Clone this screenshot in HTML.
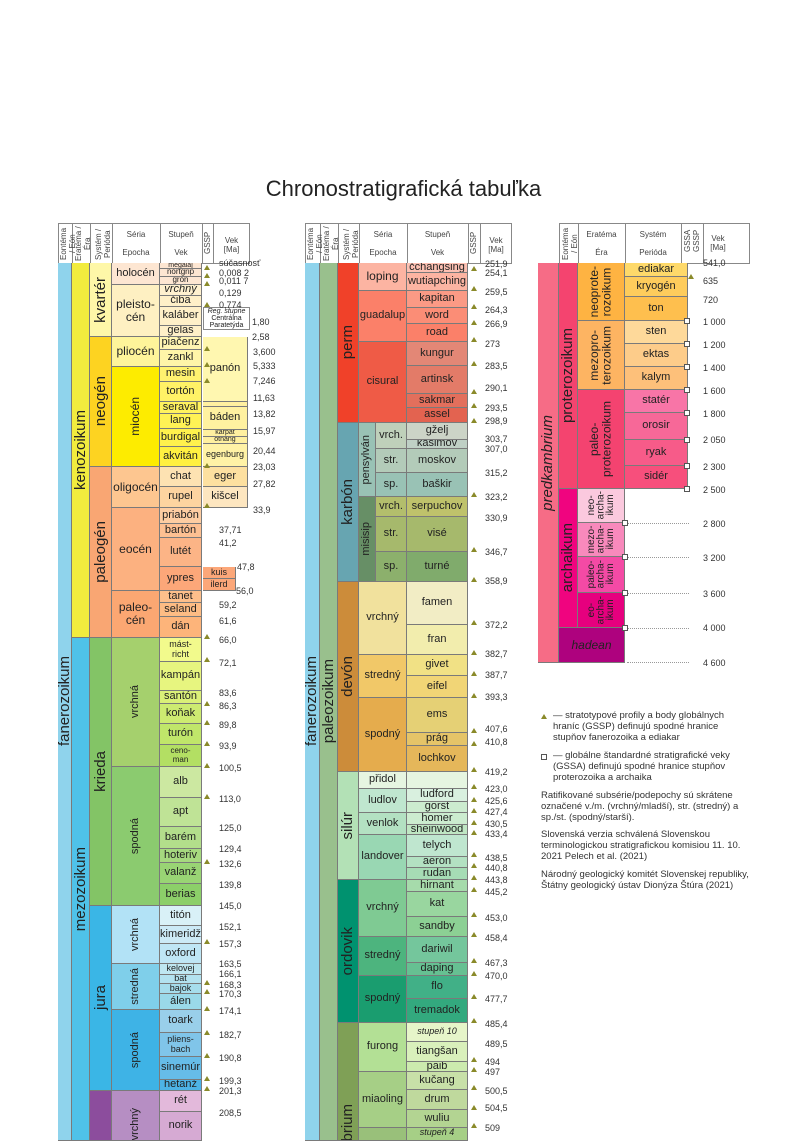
<!DOCTYPE html>
<html style="overflow:hidden"><head><meta charset="utf-8"><style>
html,body{overflow:hidden}
body{margin:0;width:807px;height:1141px;overflow:hidden;background:#fff;position:relative;font-family:"Liberation Sans",sans-serif;color:#222}
.b{position:absolute;display:flex;align-items:center;justify-content:center;border-right:1px solid #7a7a7a;border-bottom:1px solid #7a7a7a;box-sizing:border-box;font-size:11px;text-align:center;line-height:1.05;overflow:hidden;white-space:nowrap}
.v{writing-mode:vertical-rl;transform:rotate(180deg)}
.S{font-size:15px}.M{font-size:12px}.s9{font-size:9px}.s8{font-size:8px}.s7{font-size:7px}
.a{position:absolute;font-size:9px;color:#333;line-height:10px;white-space:nowrap}
.h{position:absolute;border:1px solid #888;box-sizing:border-box;background:#fff}
.hl{position:absolute;font-size:8px;color:#444;text-align:center;line-height:9px}
.vl{position:absolute;width:1px;background:#888}
.g{position:absolute;width:0;height:0;border-left:3px solid transparent;border-right:3px solid transparent;border-bottom:5px solid #8a8a2a}
.q{position:absolute;width:6px;height:6px;border:1px solid #555;background:#fff;box-sizing:border-box}
.d{position:absolute;height:0;border-top:1px dotted #999}
.t{position:absolute;font-size:9.5px;line-height:11px;color:#333}
.ar{font-size:10px;line-height:0.95}
</style></head><body>
<div style="position:absolute;left:0;width:807px;top:176px;text-align:center;font-size:22px;color:#222">Chronostratigrafická tabuľka</div>

<!-- LEFT HEADER -->
<div class="h" style="left:58px;top:223px;width:192px;height:41px"></div>
<div class="vl" style="left:72px;top:223px;height:41px"></div><div class="vl" style="left:90px;top:223px;height:41px"></div><div class="vl" style="left:112px;top:223px;height:41px"></div><div class="vl" style="left:160px;top:223px;height:41px"></div><div class="vl" style="left:202px;top:223px;height:41px"></div><div class="vl" style="left:213px;top:223px;height:41px"></div>
<div class="hl v" style="left:59px;top:226px;height:36px">Eontéma / Eón</div>
<div class="hl v" style="left:74px;top:226px;height:36px">Eratéma / Éra</div>
<div class="hl v" style="left:94px;top:226px;height:36px">Systém / Perióda</div>
<div class="hl" style="left:112px;top:230px;width:48px">Séria<br><br>Epocha</div>
<div class="hl" style="left:160px;top:230px;width:42px">Stupeň<br><br>Vek</div>
<div class="hl v" style="left:203px;top:228px;height:30px">GSSP</div>
<div class="hl" style="left:213px;top:236px;width:37px">Vek<br>[Ma]</div>

<!-- LEFT BODY -->
<div class="b S" style="left:58px;top:263px;width:14px;height:878px;background:#8fd3ec"><span class="v">fanerozoikum</span></div>
<div class="b S" style="left:72px;top:263px;width:18px;height:375px;background:#f2ec3e"><span class="v">kenozoikum</span></div>
<div class="b S" style="left:72px;top:638px;width:18px;height:503px;background:#4fc2e9"><span class="v">mezozoikum</span></div>
<div class="b S" style="left:90px;top:263px;width:22px;height:74px;background:#fef7a8"><span class="v">kvartér</span></div>
<div class="b S" style="left:90px;top:337px;width:22px;height:130px;background:#fdd321"><span class="v">neogén</span></div>
<div class="b S" style="left:90px;top:467px;width:22px;height:171px;background:#f9a673"><span class="v">paleogén</span></div>
<div class="b S" style="left:90px;top:638px;width:22px;height:268px;background:#83c466"><span class="v">krieda</span></div>
<div class="b S" style="left:90px;top:906px;width:22px;height:185px;background:#3ab6e6"><span class="v">jura</span></div>
<div class="b S" style="left:90px;top:1091px;width:22px;height:50px;background:#8c4d9d"></div>

<div class="b" style="left:112px;top:263px;width:48px;height:22px;background:#fde6d2">holocén</div>
<div class="b M" style="left:112px;top:285px;width:48px;height:52px;background:#fef0c2">pleisto-<br>cén</div>
<div class="b M" style="left:112px;top:337px;width:48px;height:30px;background:#fef49a">pliocén</div>
<div class="b M" style="left:112px;top:367px;width:48px;height:100px;background:#fdec00"><span class="v">miocén</span></div>
<div class="b M" style="left:112px;top:467px;width:48px;height:41px;background:#fdc690">oligocén</div>
<div class="b M" style="left:112px;top:508px;width:48px;height:83px;background:#fcb180">eocén</div>
<div class="b M" style="left:112px;top:591px;width:48px;height:47px;background:#fba772">paleo-<br>cén</div>
<div class="b" style="left:112px;top:638px;width:48px;height:129px;background:#a5d06d"><span class="v">vrchná</span></div>
<div class="b" style="left:112px;top:767px;width:48px;height:139px;background:#8bcb6f"><span class="v">spodná</span></div>
<div class="b" style="left:112px;top:906px;width:48px;height:58px;background:#b2e2f6"><span class="v">vrchná</span></div>
<div class="b" style="left:112px;top:964px;width:48px;height:46px;background:#7fcfea"><span class="v">stredná</span></div>
<div class="b" style="left:112px;top:1010px;width:48px;height:81px;background:#3eb3e6"><span class="v">spodná</span></div>
<div class="b" style="left:112px;top:1091px;width:48px;height:50px;background:#b68ec3;align-items:flex-end;justify-content:center"><span class="v">vrchný</span></div>

<div class="b s7" style="left:160px;top:263px;width:42px;height:6px;background:#fde6d2">megalaj</div>
<div class="b s8" style="left:160px;top:269px;width:42px;height:8px;background:#fde6d2">nortgrip</div>
<div class="b s8" style="left:160px;top:277px;width:42px;height:8px;background:#fde6d2">grón</div>
<div class="b" style="left:160px;top:285px;width:42px;height:11px;background:#fff1cf;font-style:italic">vrchný</div>
<div class="b" style="left:160px;top:296px;width:42px;height:11px;background:#fff0c8">čiba</div>
<div class="b" style="left:160px;top:307px;width:42px;height:19px;background:#fff0c8">kaláber</div>
<div class="b" style="left:160px;top:326px;width:42px;height:11px;background:#fff0c8">gelas</div>
<div class="b" style="left:160px;top:337px;width:42px;height:13px;background:#fff5b2">piačenz</div>
<div class="b" style="left:160px;top:350px;width:42px;height:17px;background:#fff5a8">zankl</div>
<div class="b" style="left:160px;top:367px;width:42px;height:15px;background:#fff26f">mesin</div>
<div class="b" style="left:160px;top:382px;width:42px;height:20px;background:#fff266">tortón</div>
<div class="b" style="left:160px;top:402px;width:42px;height:12px;background:#fff25e">seraval</div>
<div class="b" style="left:160px;top:414px;width:42px;height:15px;background:#fff255">lang</div>
<div class="b" style="left:160px;top:429px;width:42px;height:18px;background:#fff14c">burdigal</div>
<div class="b" style="left:160px;top:447px;width:42px;height:20px;background:#fff041">akvitán</div>
<div class="b" style="left:160px;top:467px;width:42px;height:20px;background:#fde2b2">chat</div>
<div class="b" style="left:160px;top:487px;width:42px;height:21px;background:#fdd4a0">rupel</div>
<div class="b" style="left:160px;top:508px;width:42px;height:16px;background:#fdcda2">priabón</div>
<div class="b" style="left:160px;top:524px;width:42px;height:14px;background:#fdc092">bartón</div>
<div class="b" style="left:160px;top:538px;width:42px;height:29px;background:#fcb486">lutét</div>
<div class="b" style="left:160px;top:567px;width:42px;height:24px;background:#fca779">ypres</div>
<div class="b" style="left:160px;top:591px;width:42px;height:12px;background:#fdbf8b">tanet</div>
<div class="b" style="left:160px;top:603px;width:42px;height:14px;background:#fdbc84">seland</div>
<div class="b" style="left:160px;top:617px;width:42px;height:21px;background:#fdb47a">dán</div>
<div class="b s9" style="left:160px;top:638px;width:42px;height:24px;background:#f2fa8c">mást-<br>richt</div>
<div class="b" style="left:160px;top:662px;width:42px;height:29px;background:#e7f57f">kampán</div>
<div class="b" style="left:160px;top:691px;width:42px;height:13px;background:#daf078">santón</div>
<div class="b" style="left:160px;top:704px;width:42px;height:20px;background:#cdeb71">koňak</div>
<div class="b" style="left:160px;top:724px;width:42px;height:21px;background:#c0e66a">turón</div>
<div class="b s8" style="left:160px;top:745px;width:42px;height:22px;background:#b3df63">ceno-<br>man</div>
<div class="b" style="left:160px;top:767px;width:42px;height:31px;background:#cce8a1">alb</div>
<div class="b" style="left:160px;top:798px;width:42px;height:29px;background:#bfe396">apt</div>
<div class="b" style="left:160px;top:827px;width:42px;height:22px;background:#b3de8b">barém</div>
<div class="b" style="left:160px;top:849px;width:42px;height:14px;background:#a6d97f">hoteriv</div>
<div class="b" style="left:160px;top:863px;width:42px;height:21px;background:#99d474">valanž</div>
<div class="b" style="left:160px;top:884px;width:42px;height:22px;background:#8ccf69">berias</div>
<div class="b" style="left:160px;top:906px;width:42px;height:20px;background:#d9f1f7">titón</div>
<div class="b" style="left:160px;top:926px;width:42px;height:18px;background:#cceaf6">kimeridž</div>
<div class="b" style="left:160px;top:944px;width:42px;height:20px;background:#bfe6f5">oxford</div>
<div class="b s9" style="left:160px;top:964px;width:42px;height:11px;background:#bfe7f1">kelovej</div>
<div class="b s9" style="left:160px;top:975px;width:42px;height:9px;background:#b3e2ef">bat</div>
<div class="b s9" style="left:160px;top:984px;width:42px;height:10px;background:#a6ddec">bajok</div>
<div class="b" style="left:160px;top:994px;width:42px;height:16px;background:#9ad9e9">álen</div>
<div class="b" style="left:160px;top:1010px;width:42px;height:23px;background:#99cfea">toark</div>
<div class="b s9" style="left:160px;top:1033px;width:42px;height:24px;background:#80c5e9">pliens-<br>bach</div>
<div class="b" style="left:160px;top:1057px;width:42px;height:23px;background:#66bce8">sinemúr</div>
<div class="b" style="left:160px;top:1080px;width:42px;height:11px;background:#4db3e6">hetanž</div>
<div class="b" style="left:160px;top:1091px;width:42px;height:21px;background:#e3b9db">rét</div>
<div class="b" style="left:160px;top:1112px;width:42px;height:29px;background:#d6aad3">norik</div>

<!-- regional -->
<div class="b s7" style="left:203px;top:307px;width:47px;height:23px;background:#fff;border:1px solid #888;line-height:7px;white-space:normal"><span><i>Reg. stupne</i><br>Centrálna<br>Paratetýda</span></div>
<div class="b" style="left:203px;top:337px;width:45px;height:65px;background:#fff7b0">panón</div>
<div class="b s8" style="left:203px;top:402px;width:45px;height:5px;background:#fff0a0"></div>
<div class="b" style="left:203px;top:407px;width:45px;height:23px;background:#fff1a0">báden</div>
<div class="b s7" style="left:203px;top:430px;width:45px;height:7px;background:#fff0a0">karpat</div>
<div class="b s7" style="left:203px;top:437px;width:45px;height:7px;background:#fff0a0">otnang</div>
<div class="b s9" style="left:203px;top:444px;width:45px;height:23px;background:#fff2a6">egenburg</div>
<div class="b" style="left:203px;top:467px;width:45px;height:20px;background:#fde0a0">eger</div>
<div class="b" style="left:203px;top:487px;width:45px;height:21px;background:#fde6c0">kišcel</div>
<div class="b s9" style="left:203px;top:567px;width:33px;height:12px;background:#fca779">kuis</div>
<div class="b s9" style="left:203px;top:579px;width:33px;height:12px;background:#fca779">ilerd</div>

<div class="a" style="left:219px;top:258px">súčasnosť</div>
<div class="a" style="left:219px;top:268px">0,008 2</div><div class="a" style="left:219px;top:276px">0,011 7</div><div class="a" style="left:219px;top:288px">0,129</div><div class="a" style="left:219px;top:300px">0,774</div>
<div class="a" style="left:252px;top:317px">1,80</div><div class="a" style="left:252px;top:332px">2,58</div><div class="a" style="left:253px;top:347px">3,600</div><div class="a" style="left:253px;top:361px">5,333</div><div class="a" style="left:253px;top:376px">7,246</div><div class="a" style="left:253px;top:393px">11,63</div><div class="a" style="left:253px;top:409px">13,82</div><div class="a" style="left:253px;top:426px">15,97</div><div class="a" style="left:253px;top:446px">20,44</div><div class="a" style="left:253px;top:462px">23,03</div><div class="a" style="left:253px;top:479px">27,82</div><div class="a" style="left:253px;top:505px">33,9</div>
<div class="a" style="left:219px;top:525px">37,71</div><div class="a" style="left:219px;top:538px">41,2</div><div class="a" style="left:237px;top:562px">47,8</div><div class="a" style="left:236px;top:586px">56,0</div><div class="a" style="left:219px;top:600px">59,2</div><div class="a" style="left:219px;top:616px">61,6</div><div class="a" style="left:219px;top:635px">66,0</div><div class="a" style="left:219px;top:658px">72,1</div><div class="a" style="left:219px;top:688px">83,6</div><div class="a" style="left:219px;top:701px">86,3</div><div class="a" style="left:219px;top:720px">89,8</div><div class="a" style="left:219px;top:741px">93,9</div><div class="a" style="left:219px;top:763px">100,5</div><div class="a" style="left:219px;top:794px">113,0</div><div class="a" style="left:219px;top:823px">125,0</div><div class="a" style="left:219px;top:844px">129,4</div><div class="a" style="left:219px;top:859px">132,6</div><div class="a" style="left:219px;top:880px">139,8</div><div class="a" style="left:219px;top:901px">145,0</div><div class="a" style="left:219px;top:922px">152,1</div><div class="a" style="left:219px;top:939px">157,3</div><div class="a" style="left:219px;top:959px">163,5</div><div class="a" style="left:219px;top:969px">166,1</div><div class="a" style="left:219px;top:980px">168,3</div><div class="a" style="left:219px;top:989px">170,3</div><div class="a" style="left:219px;top:1006px">174,1</div><div class="a" style="left:219px;top:1030px">182,7</div><div class="a" style="left:219px;top:1053px">190,8</div><div class="a" style="left:219px;top:1076px">199,3</div><div class="a" style="left:219px;top:1086px">201,3</div><div class="a" style="left:219px;top:1108px">208,5</div>
<div class="g" style="left:204px;top:265px"></div><div class="g" style="left:204px;top:273px"></div><div class="g" style="left:204px;top:281px"></div><div class="g" style="left:204px;top:302px"></div><div class="g" style="left:204px;top:346px"></div><div class="g" style="left:204px;top:362px"></div><div class="g" style="left:204px;top:378px"></div><div class="g" style="left:204px;top:463px"></div><div class="g" style="left:204px;top:503px"></div><div class="g" style="left:204px;top:634px"></div><div class="g" style="left:204px;top:657px"></div><div class="g" style="left:204px;top:701px"></div><div class="g" style="left:204px;top:720px"></div><div class="g" style="left:204px;top:741px"></div><div class="g" style="left:204px;top:763px"></div><div class="g" style="left:204px;top:794px"></div><div class="g" style="left:204px;top:859px"></div><div class="g" style="left:204px;top:939px"></div><div class="g" style="left:204px;top:980px"></div><div class="g" style="left:204px;top:989px"></div><div class="g" style="left:204px;top:1006px"></div><div class="g" style="left:204px;top:1030px"></div><div class="g" style="left:204px;top:1053px"></div><div class="g" style="left:204px;top:1076px"></div><div class="g" style="left:204px;top:1086px"></div>

<!-- MIDDLE HEADER -->
<div class="h" style="left:305px;top:223px;width:207px;height:41px"></div>
<div class="vl" style="left:320px;top:223px;height:41px"></div><div class="vl" style="left:338px;top:223px;height:41px"></div><div class="vl" style="left:359px;top:223px;height:41px"></div><div class="vl" style="left:407px;top:223px;height:41px"></div><div class="vl" style="left:468px;top:223px;height:41px"></div><div class="vl" style="left:480px;top:223px;height:41px"></div>
<div class="hl v" style="left:306px;top:226px;height:36px">Eontéma / Eón</div>
<div class="hl v" style="left:322px;top:226px;height:36px">Eratéma / Éra</div>
<div class="hl v" style="left:342px;top:226px;height:36px">Systém / Perióda</div>
<div class="hl" style="left:359px;top:230px;width:48px">Séria<br><br>Epocha</div>
<div class="hl" style="left:407px;top:230px;width:61px">Stupeň<br><br>Vek</div>
<div class="hl v" style="left:469px;top:228px;height:30px">GSSP</div>
<div class="hl" style="left:480px;top:236px;width:32px">Vek<br>[Ma]</div>

<!-- MIDDLE BODY -->
<div class="b S" style="left:305px;top:263px;width:15px;height:878px;background:#8fd3ec"><span class="v">fanerozoikum</span></div>
<div class="b S" style="left:320px;top:263px;width:18px;height:878px;background:#99c08d"><span class="v">paleozoikum</span></div>
<div class="b S" style="left:338px;top:263px;width:21px;height:160px;background:#f04129"><span class="v">perm</span></div>
<div class="b S" style="left:338px;top:423px;width:21px;height:159px;background:#67a5b1"><span class="v">karbón</span></div>
<div class="b S" style="left:338px;top:582px;width:21px;height:190px;background:#cc8c3a"><span class="v">devón</span></div>
<div class="b S" style="left:338px;top:772px;width:21px;height:108px;background:#b3e1b6"><span class="v">silúr</span></div>
<div class="b S" style="left:338px;top:880px;width:21px;height:143px;background:#00926f"><span class="v">ordovik</span></div>
<div class="b S" style="left:338px;top:1023px;width:21px;height:118px;background:#7fa056;align-items:flex-end"><span class="v" style="margin-bottom:-30px">kambrium</span></div>

<div class="b M" style="left:359px;top:263px;width:48px;height:28px;background:#fcb4a2">loping</div>
<div class="b" style="left:359px;top:291px;width:48px;height:51px;background:#fb8069">guadalup</div>
<div class="b" style="left:359px;top:342px;width:48px;height:81px;background:#ef5b46">cisural</div>
<div class="b" style="left:359px;top:423px;width:17px;height:74px;background:#99c2b5"><span class="v">pensylván</span></div>
<div class="b" style="left:359px;top:497px;width:17px;height:85px;background:#678f66"><span class="v">misisip</span></div>
<div class="b" style="left:376px;top:423px;width:31px;height:26px;background:#bfd0ba">vrch.</div>
<div class="b" style="left:376px;top:449px;width:31px;height:24px;background:#b3cbb9">str.</div>
<div class="b" style="left:376px;top:473px;width:31px;height:24px;background:#99c2b5">sp.</div>
<div class="b" style="left:376px;top:497px;width:31px;height:20px;background:#b3be6c">vrch.</div>
<div class="b" style="left:376px;top:517px;width:31px;height:35px;background:#a6b96c">str.</div>
<div class="b" style="left:376px;top:552px;width:31px;height:30px;background:#8cb06c">sp.</div>
<div class="b" style="left:359px;top:582px;width:48px;height:73px;background:#f1e19d">vrchný</div>
<div class="b" style="left:359px;top:655px;width:48px;height:43px;background:#f1c868">stredný</div>
<div class="b" style="left:359px;top:698px;width:48px;height:74px;background:#e5ac4d">spodný</div>
<div class="b" style="left:359px;top:772px;width:48px;height:17px;background:#e6f5e1">přidol</div>
<div class="b" style="left:359px;top:789px;width:48px;height:24px;background:#bfe6cf">ludlov</div>
<div class="b" style="left:359px;top:813px;width:48px;height:22px;background:#b3e1c2">venlok</div>
<div class="b" style="left:359px;top:835px;width:48px;height:45px;background:#99d7b3">landover</div>
<div class="b" style="left:359px;top:880px;width:48px;height:57px;background:#7fca93">vrchný</div>
<div class="b" style="left:359px;top:937px;width:48px;height:39px;background:#4db47e">stredný</div>
<div class="b" style="left:359px;top:976px;width:48px;height:47px;background:#1a9d6f">spodný</div>
<div class="b" style="left:359px;top:1023px;width:48px;height:49px;background:#b3e095">furong</div>
<div class="b" style="left:359px;top:1072px;width:48px;height:56px;background:#a6cf86">miaoling</div>
<div class="b" style="left:359px;top:1128px;width:48px;height:13px;background:#99c07a"></div>

<div class="b" style="left:407px;top:263px;width:61px;height:10px;background:#fcc0b2">čchangsing</div>
<div class="b" style="left:407px;top:273px;width:61px;height:18px;background:#fcb4a2">wutiapching</div>
<div class="b" style="left:407px;top:291px;width:61px;height:17px;background:#fb9a85">kapitan</div>
<div class="b" style="left:407px;top:308px;width:61px;height:16px;background:#fb8d76">word</div>
<div class="b" style="left:407px;top:324px;width:61px;height:18px;background:#fb8069">road</div>
<div class="b" style="left:407px;top:342px;width:61px;height:24px;background:#e38776">kungur</div>
<div class="b" style="left:407px;top:366px;width:61px;height:28px;background:#e37b68">artinsk</div>
<div class="b" style="left:407px;top:394px;width:61px;height:14px;background:#e36f5c">sakmar</div>
<div class="b" style="left:407px;top:408px;width:61px;height:15px;background:#e36350">assel</div>
<div class="b" style="left:407px;top:423px;width:61px;height:17px;background:#ccd4c7">gželj</div>
<div class="b" style="left:407px;top:440px;width:61px;height:9px;background:#bfd0c5">kasimov</div>
<div class="b" style="left:407px;top:449px;width:61px;height:24px;background:#b3cbb9">moskov</div>
<div class="b" style="left:407px;top:473px;width:61px;height:24px;background:#99c2b5">baškir</div>
<div class="b" style="left:407px;top:497px;width:61px;height:20px;background:#bfc26b">serpuchov</div>
<div class="b" style="left:407px;top:517px;width:61px;height:35px;background:#a6b96c">visé</div>
<div class="b" style="left:407px;top:552px;width:61px;height:30px;background:#80ab6c">turné</div>
<div class="b" style="left:407px;top:582px;width:61px;height:43px;background:#f2edc5">famen</div>
<div class="b" style="left:407px;top:625px;width:61px;height:30px;background:#f2edad">fran</div>
<div class="b" style="left:407px;top:655px;width:61px;height:21px;background:#f1e185">givet</div>
<div class="b" style="left:407px;top:676px;width:61px;height:22px;background:#f1d576">eifel</div>
<div class="b" style="left:407px;top:698px;width:61px;height:35px;background:#e5d075">ems</div>
<div class="b" style="left:407px;top:733px;width:61px;height:13px;background:#e5c468">prág</div>
<div class="b" style="left:407px;top:746px;width:61px;height:26px;background:#e5b75a">lochkov</div>
<div class="b" style="left:407px;top:772px;width:61px;height:17px;background:#e6f5e1"></div>
<div class="b" style="left:407px;top:789px;width:61px;height:13px;background:#d9f0df">ludford</div>
<div class="b" style="left:407px;top:802px;width:61px;height:11px;background:#cceccf">gorst</div>
<div class="b" style="left:407px;top:813px;width:61px;height:12px;background:#cceccf">homer</div>
<div class="b" style="left:407px;top:825px;width:61px;height:10px;background:#bfe6c3">sheinwood</div>
<div class="b" style="left:407px;top:835px;width:61px;height:22px;background:#bfe6cf">telych</div>
<div class="b" style="left:407px;top:857px;width:61px;height:11px;background:#b3e1c2">aeron</div>
<div class="b" style="left:407px;top:868px;width:61px;height:12px;background:#a6dcb5">rudan</div>
<div class="b" style="left:407px;top:880px;width:61px;height:12px;background:#a6dbab">hirnant</div>
<div class="b" style="left:407px;top:892px;width:61px;height:25px;background:#99d69f">kat</div>
<div class="b" style="left:407px;top:917px;width:61px;height:20px;background:#8cd094">sandby</div>
<div class="b" style="left:407px;top:937px;width:61px;height:26px;background:#74c69c">dariwil</div>
<div class="b" style="left:407px;top:963px;width:61px;height:13px;background:#66c092">daping</div>
<div class="b" style="left:407px;top:976px;width:61px;height:23px;background:#41b087">flo</div>
<div class="b" style="left:407px;top:999px;width:61px;height:24px;background:#33a97e">tremadok</div>
<div class="b s9" style="left:407px;top:1023px;width:61px;height:19px;background:#e6f5c9;font-style:italic">stupeň 10</div>
<div class="b" style="left:407px;top:1042px;width:61px;height:20px;background:#d9f0bb">tiangšan</div>
<div class="b" style="left:407px;top:1062px;width:61px;height:10px;background:#ccebae">paib</div>
<div class="b" style="left:407px;top:1072px;width:61px;height:18px;background:#c8e0a8">kučang</div>
<div class="b" style="left:407px;top:1090px;width:61px;height:20px;background:#bfd99d">drum</div>
<div class="b" style="left:407px;top:1110px;width:61px;height:18px;background:#b3d492">wuliu</div>
<div class="b s9" style="left:407px;top:1128px;width:61px;height:13px;background:#a6cf86;font-style:italic;align-items:flex-start">stupeň 4</div>

<div class="a" style="left:485px;top:259px">251,9</div><div class="a" style="left:485px;top:268px">254,1</div><div class="a" style="left:485px;top:287px">259,5</div><div class="a" style="left:485px;top:305px">264,3</div><div class="a" style="left:485px;top:319px">266,9</div><div class="a" style="left:485px;top:339px">273</div><div class="a" style="left:485px;top:361px">283,5</div><div class="a" style="left:485px;top:383px">290,1</div><div class="a" style="left:485px;top:403px">293,5</div><div class="a" style="left:485px;top:416px">298,9</div><div class="a" style="left:485px;top:434px">303,7</div><div class="a" style="left:485px;top:444px">307,0</div><div class="a" style="left:485px;top:468px">315,2</div><div class="a" style="left:485px;top:492px">323,2</div><div class="a" style="left:485px;top:513px">330,9</div><div class="a" style="left:485px;top:547px">346,7</div><div class="a" style="left:485px;top:576px">358,9</div><div class="a" style="left:485px;top:620px">372,2</div><div class="a" style="left:485px;top:649px">382,7</div><div class="a" style="left:485px;top:670px">387,7</div><div class="a" style="left:485px;top:692px">393,3</div><div class="a" style="left:485px;top:724px">407,6</div><div class="a" style="left:485px;top:737px">410,8</div><div class="a" style="left:485px;top:767px">419,2</div><div class="a" style="left:485px;top:784px">423,0</div><div class="a" style="left:485px;top:796px">425,6</div><div class="a" style="left:485px;top:807px">427,4</div><div class="a" style="left:485px;top:819px">430,5</div><div class="a" style="left:485px;top:829px">433,4</div><div class="a" style="left:485px;top:853px">438,5</div><div class="a" style="left:485px;top:863px">440,8</div><div class="a" style="left:485px;top:875px">443,8</div><div class="a" style="left:485px;top:887px">445,2</div><div class="a" style="left:485px;top:913px">453,0</div><div class="a" style="left:485px;top:933px">458,4</div><div class="a" style="left:485px;top:958px">467,3</div><div class="a" style="left:485px;top:971px">470,0</div><div class="a" style="left:485px;top:994px">477,7</div><div class="a" style="left:485px;top:1019px">485,4</div><div class="a" style="left:485px;top:1039px">489,5</div><div class="a" style="left:485px;top:1057px">494</div><div class="a" style="left:485px;top:1067px">497</div><div class="a" style="left:485px;top:1086px">500,5</div><div class="a" style="left:485px;top:1103px">504,5</div><div class="a" style="left:485px;top:1123px">509</div>
<div class="g" style="left:471px;top:266px"></div><div class="g" style="left:471px;top:286px"></div><div class="g" style="left:471px;top:304px"></div><div class="g" style="left:471px;top:320px"></div><div class="g" style="left:471px;top:337px"></div><div class="g" style="left:471px;top:361px"></div><div class="g" style="left:471px;top:389px"></div><div class="g" style="left:471px;top:403px"></div><div class="g" style="left:471px;top:418px"></div><div class="g" style="left:471px;top:492px"></div><div class="g" style="left:471px;top:547px"></div><div class="g" style="left:471px;top:577px"></div><div class="g" style="left:471px;top:620px"></div><div class="g" style="left:471px;top:650px"></div><div class="g" style="left:471px;top:671px"></div><div class="g" style="left:471px;top:693px"></div><div class="g" style="left:471px;top:728px"></div><div class="g" style="left:471px;top:741px"></div><div class="g" style="left:471px;top:767px"></div><div class="g" style="left:471px;top:784px"></div><div class="g" style="left:471px;top:797px"></div><div class="g" style="left:471px;top:808px"></div><div class="g" style="left:471px;top:820px"></div><div class="g" style="left:471px;top:830px"></div><div class="g" style="left:471px;top:852px"></div><div class="g" style="left:471px;top:863px"></div><div class="g" style="left:471px;top:875px"></div><div class="g" style="left:471px;top:887px"></div><div class="g" style="left:471px;top:912px"></div><div class="g" style="left:471px;top:932px"></div><div class="g" style="left:471px;top:958px"></div><div class="g" style="left:471px;top:971px"></div><div class="g" style="left:471px;top:994px"></div><div class="g" style="left:471px;top:1018px"></div><div class="g" style="left:471px;top:1057px"></div><div class="g" style="left:471px;top:1067px"></div><div class="g" style="left:471px;top:1085px"></div><div class="g" style="left:471px;top:1105px"></div><div class="g" style="left:471px;top:1123px"></div>

<!-- RIGHT HEADER -->
<div class="h" style="left:559px;top:223px;width:191px;height:41px"></div>
<div class="vl" style="left:578px;top:223px;height:41px"></div><div class="vl" style="left:625px;top:223px;height:41px"></div><div class="vl" style="left:681px;top:223px;height:41px"></div><div class="vl" style="left:703px;top:223px;height:41px"></div>
<div class="hl v" style="left:561px;top:226px;height:36px">Eontéma / Eón</div>
<div class="hl" style="left:578px;top:230px;width:47px">Eratéma<br><br>Éra</div>
<div class="hl" style="left:625px;top:230px;width:56px">Systém<br><br>Perióda</div>
<div class="hl v" style="left:683px;top:226px;height:30px">GSSA GSSP</div>
<div class="hl" style="left:703px;top:234px;width:30px">Vek<br>[Ma]</div>

<!-- RIGHT BODY -->
<div class="b S" style="left:538px;top:263px;width:21px;height:400px;background:#f66c86;font-style:italic"><span class="v">predkambrium</span></div>
<div class="b S" style="left:559px;top:263px;width:19px;height:226px;background:#f4446f"><span class="v">proterozoikum</span></div>
<div class="b S" style="left:559px;top:489px;width:19px;height:139px;background:#f0047f"><span class="v">archaikum</span></div>
<div class="b M" style="left:559px;top:628px;width:66px;height:35px;background:#ae027e;font-style:italic">hadean</div>
<div class="b M" style="left:578px;top:263px;width:47px;height:58px;background:#feb342"><span class="v">neoprote-<br>rozoikum</span></div>
<div class="b M" style="left:578px;top:321px;width:47px;height:69px;background:#fdb462"><span class="v">mezopro-<br>terozoikum</span></div>
<div class="b M" style="left:578px;top:390px;width:47px;height:99px;background:#f44370"><span class="v">paleo-<br>proterozoikum</span></div>
<div class="b ar" style="left:578px;top:489px;width:47px;height:34px;background:#fbc9de"><span class="v">neo-<br>archa-<br>ikum</span></div>
<div class="b ar" style="left:578px;top:523px;width:47px;height:34px;background:#f889bc"><span class="v">mezo-<br>archa-<br>ikum</span></div>
<div class="b ar" style="left:578px;top:557px;width:47px;height:36px;background:#f44aa5"><span class="v">paleo-<br>archa-<br>ikum</span></div>
<div class="b ar" style="left:578px;top:593px;width:47px;height:35px;background:#e6007e"><span class="v">eo-<br>archa-<br>ikum</span></div>
<div class="b" style="left:625px;top:263px;width:63px;height:14px;background:#fed96a">ediakar</div>
<div class="b" style="left:625px;top:277px;width:63px;height:20px;background:#fecc5c">kryogén</div>
<div class="b" style="left:625px;top:297px;width:63px;height:24px;background:#febf4e">ton</div>
<div class="b" style="left:625px;top:321px;width:63px;height:23px;background:#fed99a">sten</div>
<div class="b" style="left:625px;top:344px;width:63px;height:23px;background:#fdcc8a">ektas</div>
<div class="b" style="left:625px;top:367px;width:63px;height:23px;background:#fdc07a">kalym</div>
<div class="b" style="left:625px;top:390px;width:63px;height:23px;background:#f875a7">statér</div>
<div class="b" style="left:625px;top:413px;width:63px;height:27px;background:#f76898">orosir</div>
<div class="b" style="left:625px;top:440px;width:63px;height:26px;background:#f75b89">ryak</div>
<div class="b" style="left:625px;top:466px;width:63px;height:23px;background:#f74f7c">sidér</div>
<div class="d" style="left:627px;top:523px;width:62px"></div><div class="d" style="left:627px;top:557px;width:62px"></div><div class="d" style="left:627px;top:593px;width:62px"></div><div class="d" style="left:627px;top:628px;width:62px"></div><div class="d" style="left:627px;top:662px;width:62px"></div>
<div class="q" style="left:684px;top:318px"></div><div class="q" style="left:684px;top:341px"></div><div class="q" style="left:684px;top:364px"></div><div class="q" style="left:684px;top:387px"></div><div class="q" style="left:684px;top:410px"></div><div class="q" style="left:684px;top:437px"></div><div class="q" style="left:684px;top:463px"></div><div class="q" style="left:684px;top:486px"></div><div class="q" style="left:622px;top:520px"></div><div class="q" style="left:622px;top:554px"></div><div class="q" style="left:622px;top:590px"></div><div class="q" style="left:622px;top:625px"></div>
<div class="g" style="left:688px;top:274px"></div>
<div class="a" style="left:703px;top:258px">541,0</div><div class="a" style="left:703px;top:276px">635</div><div class="a" style="left:703px;top:295px">720</div><div class="a" style="left:703px;top:317px">1 000</div><div class="a" style="left:703px;top:340px">1 200</div><div class="a" style="left:703px;top:363px">1 400</div><div class="a" style="left:703px;top:386px">1 600</div><div class="a" style="left:703px;top:409px">1 800</div><div class="a" style="left:703px;top:435px">2 050</div><div class="a" style="left:703px;top:462px">2 300</div><div class="a" style="left:703px;top:485px">2 500</div><div class="a" style="left:703px;top:519px">2 800</div><div class="a" style="left:703px;top:553px">3 200</div><div class="a" style="left:703px;top:589px">3 600</div><div class="a" style="left:703px;top:623px">4 000</div><div class="a" style="left:703px;top:658px">4 600</div>

<!-- LEGEND -->
<div class="g" style="left:541px;top:714px"></div>
<div class="t" style="left:553px;top:710px;width:200px">— stratotypové profily a body globálnych hraníc (GSSP) definujú spodné hranice stupňov fanerozoika a ediakar</div>
<div class="q" style="left:541px;top:754px"></div>
<div class="t" style="left:553px;top:750px;width:200px">— globálne štandardné stratigrafické veky (GSSA) definujú spodné hranice stupňov proterozoika a archaika</div>
<div class="t" style="left:541px;top:790px;width:210px">Ratifikované subsérie/podepochy sú skrátene označené v./m. (vrchný/mladší), str. (stredný) a sp./st. (spodný/starší).</div>
<div class="t" style="left:541px;top:829px;width:210px">Slovenská verzia schválená Slovenskou terminologickou stratigrafickou komisiou 11. 10. 2021 Pelech et al. (2021)</div>
<div class="t" style="left:541px;top:869px;width:210px">Národný geologický komitét Slovenskej republiky, Štátny geologický ústav Dionýza Štúra (2021)</div>
</body></html>
